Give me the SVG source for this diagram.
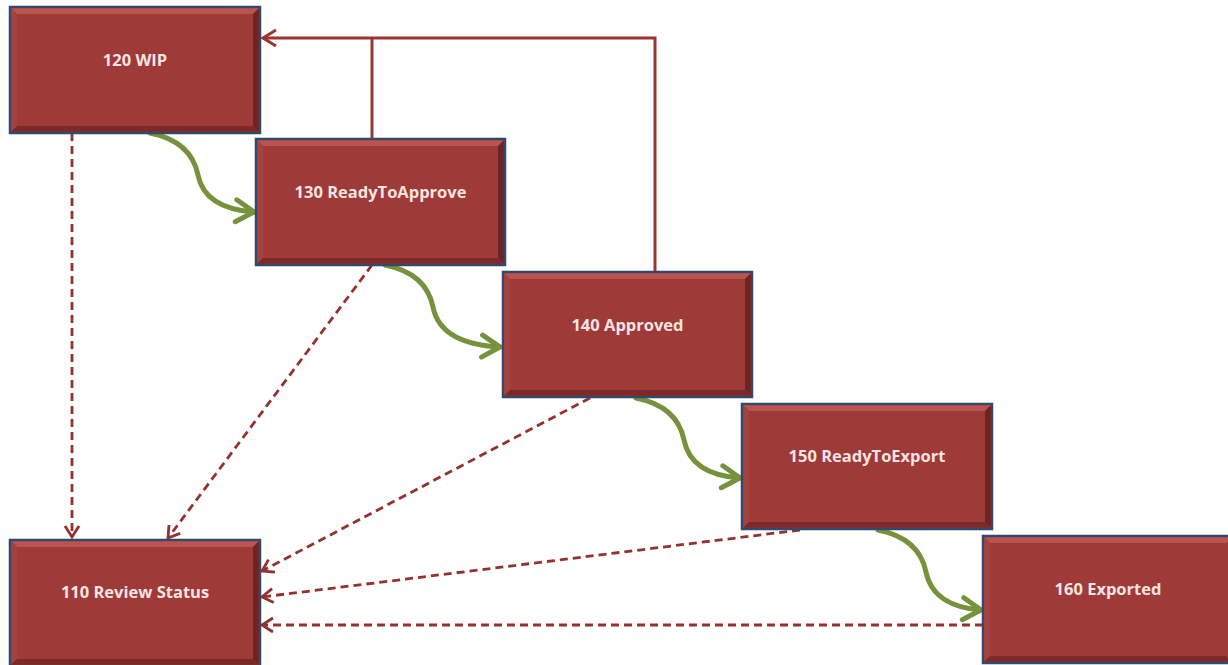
<svg xmlns="http://www.w3.org/2000/svg" width="1228" height="665" viewBox="0 0 1228 665">
<style>
.box{fill:#9E3A38;stroke:#2F4A6E;stroke-width:2.5}
.bt{fill:#B9544F}
.bl{fill:#A5413E}
.br{fill:#6E2422}
.bb{fill:#7C2A28}
.lbl{font-family:"Open Sans","Liberation Sans",sans-serif;font-weight:bold;font-size:16.5px;fill:#F6E4E2;text-anchor:middle}
.solid{fill:none;stroke:#9B3533;stroke-width:3}
.dash{fill:none;stroke:#93322F;stroke-width:2.8;stroke-dasharray:8 5}
.green{fill:none;stroke:#76923C;stroke-width:5;stroke-linecap:round}
</style>
<defs>
<marker id="ar" markerUnits="userSpaceOnUse" markerWidth="20" markerHeight="20" viewBox="0 0 20 20" refX="17" refY="10" orient="auto">
<path d="M4,2 L17,10 L4,18" fill="none" stroke="#9B3533" stroke-width="3"/>
</marker>
<marker id="ad" markerUnits="userSpaceOnUse" markerWidth="18" markerHeight="18" viewBox="0 0 18 18" refX="15" refY="9" orient="auto">
<path d="M4,2 L15,9 L4,16" fill="none" stroke="#93322F" stroke-width="2.8"/>
</marker>
<marker id="ag" markerUnits="userSpaceOnUse" markerWidth="28" markerHeight="28" viewBox="0 0 28 28" refX="24" refY="14" orient="auto">
<path d="M6,3 L24,14 L6,25" fill="none" stroke="#76923C" stroke-width="5" stroke-linecap="round"/>
</marker>
</defs>

<g id="connectors">
<path class="solid" d="M372,138 L372,38"/>
<path class="solid" d="M655,271 L655,38 L263,38" marker-end="url(#ar)"/>
<path class="green" d="M150,133 C185,140 195,160 198,175 C203,200 225,210 254,212" marker-end="url(#ag)"/>
<path class="green" d="M385,265 C420,272 430,292 433,307 C438,332 460,345 500,347" marker-end="url(#ag)"/>
<path class="green" d="M636,398 C671,405 681,425 684,440 C689,465 711,476 740,478" marker-end="url(#ag)"/>
<path class="green" d="M878,530 C913,537 923,557 926,572 C931,597 953,608 981,610" marker-end="url(#ag)"/>
<path class="dash" d="M72,133 L72,537" marker-end="url(#ad)"/>
<path class="dash" d="M372,265 L168,538" marker-end="url(#ad)"/>
<path class="dash" d="M590,398 L262,571" marker-end="url(#ad)"/>
<path class="dash" d="M800,530 L262,597" marker-end="url(#ad)"/>
<path class="dash" d="M983,625 L262,625" marker-end="url(#ad)"/>
</g>

<g id="n120" transform="translate(10,7)">
<rect class="box" width="250" height="126"/>
<polygon class="bt" points="1.2,1.2 248.8,1.2 243,7 7,7"/>
<polygon class="bl" points="1.2,1.2 7,7 7,119 1.2,124.8"/>
<polygon class="br" points="248.8,1.2 248.8,124.8 243,119 243,7"/>
<polygon class="bb" points="1.2,124.8 248.8,124.8 243,119 7,119"/>
<text class="lbl" x="125" y="59">120 WIP</text>
</g>

<g id="n130" transform="translate(256,139)">
<rect class="box" width="249" height="126"/>
<polygon class="bt" points="1.2,1.2 247.8,1.2 242,7 7,7"/>
<polygon class="bl" points="1.2,1.2 7,7 7,119 1.2,124.8"/>
<polygon class="br" points="247.8,1.2 247.8,124.8 242,119 242,7"/>
<polygon class="bb" points="1.2,124.8 247.8,124.8 242,119 7,119"/>
<text class="lbl" x="124.5" y="59">130 ReadyToApprove</text>
</g>

<g id="n140" transform="translate(503,272)">
<rect class="box" width="249" height="125"/>
<polygon class="bt" points="1.2,1.2 247.8,1.2 242,7 7,7"/>
<polygon class="bl" points="1.2,1.2 7,7 7,118 1.2,123.8"/>
<polygon class="br" points="247.8,1.2 247.8,123.8 242,118 242,7"/>
<polygon class="bb" points="1.2,123.8 247.8,123.8 242,118 7,118"/>
<text class="lbl" x="124.5" y="59">140 Approved</text>
</g>

<g id="n150" transform="translate(742,404)">
<rect class="box" width="250" height="125"/>
<polygon class="bt" points="1.2,1.2 248.8,1.2 243,7 7,7"/>
<polygon class="bl" points="1.2,1.2 7,7 7,118 1.2,123.8"/>
<polygon class="br" points="248.8,1.2 248.8,123.8 243,118 243,7"/>
<polygon class="bb" points="1.2,123.8 248.8,123.8 243,118 7,118"/>
<text class="lbl" x="125" y="58">150 ReadyToExport</text>
</g>

<g id="n160" transform="translate(983,536)">
<rect class="box" width="250" height="127"/>
<polygon class="bt" points="1.2,1.2 248.8,1.2 243,7 7,7"/>
<polygon class="bl" points="1.2,1.2 7,7 7,120 1.2,125.8"/>
<polygon class="bb" points="1.2,125.8 248.8,125.8 243,120 7,120"/>
<text class="lbl" x="125" y="59">160 Exported</text>
</g>

<g id="n110" transform="translate(10,540)">
<rect class="box" width="250" height="126"/>
<polygon class="bt" points="1.2,1.2 248.8,1.2 243,7 7,7"/>
<polygon class="bl" points="1.2,1.2 7,7 7,119 1.2,124.8"/>
<polygon class="br" points="248.8,1.2 248.8,124.8 243,119 243,7"/>
<polygon class="bb" points="1.2,124.8 248.8,124.8 243,119 7,119"/>
<text class="lbl" x="125" y="58">110 Review Status</text>
</g>
</svg>
